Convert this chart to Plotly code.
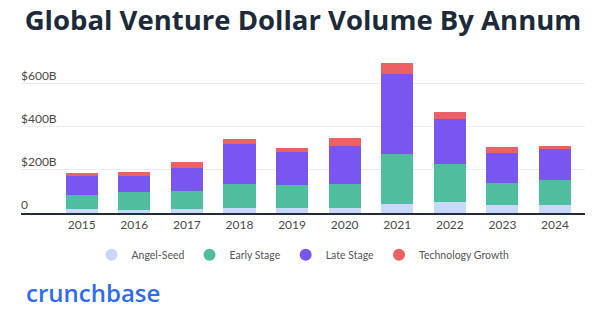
import plotly.graph_objects as go

years = ["2015", "2016", "2017", "2018", "2019", "2020", "2021", "2022", "2023", "2024"]
angel_seed = [17, 15, 17, 25, 23, 25, 43, 50, 36, 36]
early_stage = [65, 81, 87, 111, 107, 111, 233, 179, 105, 117]
late_stage = [93, 78, 107, 185, 152, 177, 369, 207, 140, 145]
tech_growth = [9, 15, 25, 25, 19, 36, 51, 32, 24, 15]

series_names = ["Angel-Seed", "Early Stage", "Late Stage", "Technology Growth"]
series_colors = ["#c8d8f8", "#4fbe9e", "#7a56f0", "#ec6262"]
tick_vals = [0, 200, 400, 600]
tick_text = ["0", "$200B", "$400B", "$600B"]

fig = go.Figure()
for name, vals, col in zip(series_names, [angel_seed, early_stage, late_stage, tech_growth], series_colors):
    fig.add_trace(go.Bar(x=years, y=vals, name=name, marker=dict(color=col, line=dict(width=0)),
                         showlegend=False))
for name, col in zip(series_names, series_colors):
    fig.add_trace(go.Scatter(x=[None], y=[None], mode="markers", name=name,
                             marker=dict(symbol="circle", size=12, color=col)))

fig.update_layout(
    width=606, height=323,
    margin=dict(l=21, r=21, t=58, b=110),
    paper_bgcolor="white", plot_bgcolor="white",
    barmode="stack", bargap=0.39,
    font=dict(family="Lato", color="#555555"),
    title=dict(text="<b>Global Venture Dollar Volume By Annum</b>",
               x=0.5, xanchor="center", y=0.936, yanchor="middle",
               font=dict(family="Open Sans", size=27.5, color="#1c2a39")),
    xaxis=dict(type="category", range=[-1.154, 9.57], showgrid=False,
               showline=True, linecolor="#1f2d3d", linewidth=2,
               ticks="", tickfont=dict(size=12, color="#4a4a4a"), fixedrange=True),
    yaxis=dict(range=[0, 720], tickvals=tick_vals, ticktext=tick_text,
               showgrid=True, gridcolor="#ececec", gridwidth=1, zeroline=False,
               ticklabelposition="inside top", tickfont=dict(size=12, color="#4a4a4a"),
               ticklabelstandoff=-3,
               showline=False, ticks=""),
    legend=dict(orientation="h", x=0.5, xanchor="center", y=-0.27, yanchor="middle",
                traceorder="normal",
                font=dict(size=10.5, color="#555555"), itemwidth=30,
                bgcolor="rgba(0,0,0,0)"),
    annotations=[dict(text="crunchbase", xref="paper", yref="paper",
                      x=0.005, y=-0.51, xanchor="left", yanchor="middle",
                      showarrow=False,
                      font=dict(family="Open Sans", size=24, color="#2f6cf0", weight=600))],
)

fig.write_html("out.html")
